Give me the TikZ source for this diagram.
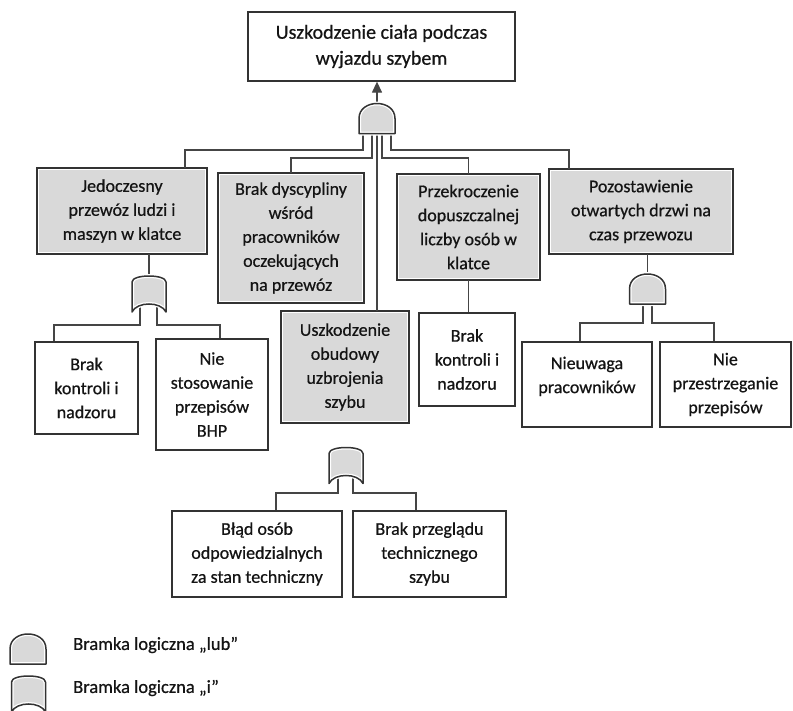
\documentclass[tikz,border=0pt]{standalone}
\usepackage{fontspec}
\setmainfont{Carlito}[FakeBold=0.6]
\usetikzlibrary{arrows.meta,calc}
\definecolor{boxgray}{gray}{0.85}
\definecolor{edgecol}{gray}{0.2}
\definecolor{wirecol}{gray}{0.27}
\definecolor{txtcol}{gray}{0.08}
\tikzset{
  box/.style={rectangle, inner sep=0pt, align=center, font=\fontsize{18}{24}\selectfont,
    text=txtcol, fill=white, draw=edgecol, line width=1.3pt},
  graybox/.style={rectangle, inner sep=0pt, align=center, font=\fontsize{18}{24}\selectfont,
    text=txtcol, fill=boxgray, postaction={draw=white,line width=4pt},
    postaction={draw=edgecol,line width=1.3pt}},
  sz/.style 2 args={minimum width=#1pt, minimum height=#2pt},
  gatespot/.style={rectangle, inner sep=0pt, outer sep=0pt},
  wire/.style={draw=wirecol, line width=1.3pt},
  gatestyle/.style={fill=boxgray, line join=round, postaction={draw=white,line width=4pt},
    postaction={draw=edgecol,line width=1.5pt}},
  legtext/.style={anchor=west, inner sep=0pt, text=txtcol, font=\fontsize{18.5}{22}\selectfont},
  pics/lubgate/.style={code={
    \path[gatestyle] (-18,15) -- (-18,0) .. controls (-18,-10) and (-9,-15) .. (0,-15)
      .. controls (9,-15) and (18,-10) .. (18,0) -- (18,15) -- cycle;}},
  pics/igate/.style={code={
    \path[gatestyle] (-17,18) -- (-17,-12) .. controls (-17,-20) and (17,-20) .. (17,-12)
      -- (17,18) .. controls (12,7.3) and (-12,7.3) .. (-17,18) -- cycle;}},
}
\begin{document}
\begin{tikzpicture}[x=1pt,y=-1pt]
\useasboundingbox (0,0) rectangle (793,710);
% boxes
\node[box, sz={267}{69}, font=\fontsize{20}{26}\selectfont] (top) at (381.5,46.5) {Uszkodzenie ciała podczas\\wyjazdu szybem};
\node[graybox, sz={170}{86}] (b1) at (122,211) {Jedoczesny\\przewóz ludzi i\\maszyn w klatce};
\node[graybox, sz={146}{130}] (b2) at (291,238) {Brak dyscypliny\\wśród\\pracowników\\oczekujących\\na przewóz};
\node[graybox, sz={143}{106}] (b3) at (468.5,227) {Przekroczenie\\dopuszczalnej\\liczby osób w\\klatce};
\node[graybox, sz={184}{85}] (b4) at (641,211.5) {Pozostawienie\\otwartych drzwi na\\czas przewozu};
\node[graybox, sz={128}{112}] (b5) at (345,367) {Uszkodzenie\\obudowy\\uzbrojenia\\szybu};
\node[box, sz={103}{92}] (b6) at (86.5,388) {Brak\\kontroli i\\nadzoru};
\node[box, sz={112}{111}] (b7) at (212,394.5) {Nie\\stosowanie\\przepisów\\BHP};
\node[box, sz={96}{93}] (b8) at (467,359.5) {Brak\\kontroli i\\nadzoru};
\node[box, sz={130}{85}] (b9) at (587,384.5) {Nieuwaga\\pracowników\\[-12pt]\strut};
\node[box, sz={131}{85}] (b10) at (725.5,384.5) {Nie\\przestrzeganie\\przepisów};
\node[box, sz={170}{86}] (b11) at (257,554) {Błąd osób\\odpowiedzialnych\\za stan techniczny};
\node[box, sz={153}{86}] (b12) at (429.5,554) {Brak przeglądu\\technicznego\\szybu};
% gate places
\node[gatespot, sz={36}{30}] (g0) at (377,118.5) {};
\node[gatespot, sz={34}{36}] (g1) at (149,294) {};
\node[gatespot, sz={36}{30}] (g2) at (647.5,289) {};
\node[gatespot, sz={34}{36}] (g3) at (346,465.5) {};
\node[gatespot, sz={36}{30}] (l1) at (28,649) {};
\node[gatespot, sz={34}{36}] (l2) at (28.5,694) {};
% connectors
\draw[wire, -{Triangle[length=11pt,width=10pt]}] (g0.center) -- (g0.center |- top.south);
\draw[wire] ([xshift=-14pt]g0.center) -- ++(0,31.5) -| ([xshift=63pt]b1.north);
\draw[wire] ([xshift=-5pt]g0.center) -- ++(0,39.5) -| (b2.north);
\draw[wire] (g0.center) -- (g0.center |- b5.north);
\draw[wire] ([xshift=5pt]g0.center) -- ++(0,39.5) -| (b3.north);
\draw[wire] ([xshift=14pt]g0.center) -- ++(0,31.5) -| ([xshift=-72pt]b4.north);
\draw[wire] (g1.center) -- (g1.center |- b1.south);
\draw[wire] ([xshift=-9pt]g1.center) -- ++(0,31) -| ([xshift=-32.5pt]b6.north);
\draw[wire] ([xshift=8pt]g1.center) -- ++(0,31) -| ([xshift=8pt]b7.north);
\draw[wire] (b3.south) -- (b3.south |- b8.north);
\draw[wire] (g2.center) -- (g2.center |- b4.south);
\draw[wire] ([xshift=-4.5pt]g2.center) -- ++(0,34) -| ([xshift=-7pt]b9.north);
\draw[wire] ([xshift=4.5pt]g2.center) -- ++(0,34) -| ([xshift=-11.5pt]b10.north);
\draw[wire] ([xshift=-8pt]g3.center) -- ++(0,27.5) -| ([xshift=19pt]b11.north);
\draw[wire] ([xshift=7pt]g3.center) -- ++(0,27.5) -| ([xshift=-13.5pt]b12.north);
% gates
\pic at (g0.center) {lubgate};
\pic at (g1.center) {igate};
\pic at (g2.center) {lubgate};
\pic at (g3.center) {igate};
% legend
\pic at (l1.center) {lubgate};
\pic at (l2.center) {igate};
\node[legtext] (t1) at (73,645) {Bramka logiczna „lub”};
\node[legtext] (t2) at (73,688) {Bramka logiczna „i”};
\end{tikzpicture}
\end{document}
